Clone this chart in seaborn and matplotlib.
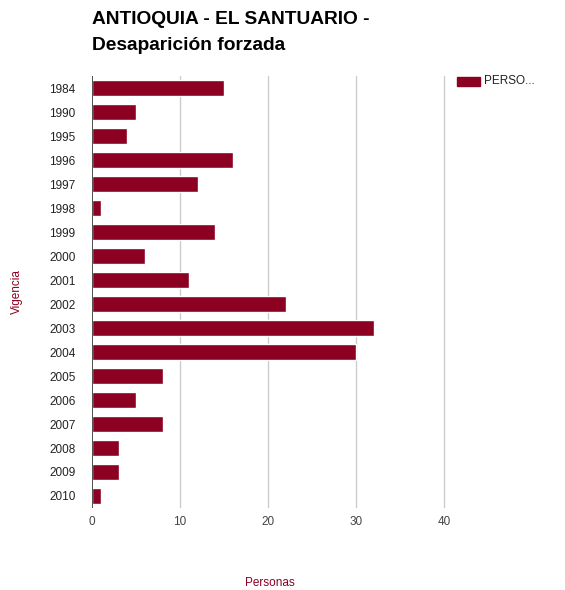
import matplotlib
matplotlib.use("Agg")
import matplotlib.pyplot as plt
import seaborn as sns
import pandas as pd
from matplotlib.patches import Rectangle

years = ["1984", "1990", "1995", "1996", "1997", "1998", "1999", "2000", "2001",
         "2002", "2003", "2004", "2005", "2006", "2007", "2008", "2009", "2010"]
personas = [15, 5, 4, 16, 12, 1, 14, 6, 11, 22, 32, 30, 8, 5, 8, 3, 3, 1]
x_ticks = [0, 10, 20, 30, 40]

df = pd.DataFrame({"Vigencia": years, "Personas": personas})

sns.set_theme(style="white")
plt.rcParams["font.family"] = ["Liberation Sans", "DejaVu Sans"]

color = "#8C0021"
fig = plt.figure(figsize=(5.65, 5.9), dpi=100)
ax = fig.add_axes([0.163, 0.139, 0.779, 0.732])

sns.barplot(data=df, y="Vigencia", x="Personas", orient="h", color=color,
            width=0.68, saturation=1, ax=ax, order=years)

ax.set_xlim(0, 50)
ax.set_xticks(x_ticks)
ax.set_xticklabels([str(t) for t in x_ticks], fontsize=8.5, color="#444444")
ax.tick_params(axis="y", labelsize=8.5, labelcolor="#222222", length=0, pad=12)
ax.tick_params(axis="x", length=0, pad=6)
for s in ax.spines.values():
    s.set_visible(False)
for t in x_ticks[1:]:
    ax.axvline(t, color="#CCCCCC", lw=1, zorder=0)
ax.axvline(0, color="#333333", lw=1.2, zorder=3)

ax.set_xlabel("Personas", color=color, fontsize=8.5, va="center")
ax.xaxis.set_label_coords(0.405, -0.174)
ax.set_ylabel("Vigencia", color=color, fontsize=8.5, va="center")
ax.yaxis.set_label_coords(-0.17, 0.5)

fig.text(92 / 565, 1 - 20 / 590, "ANTIOQUIA - EL SANTUARIO -", fontsize=13.8,
         fontweight="bold", va="center", ha="left", color="black")
fig.text(92 / 565, 1 - 46 / 590, "Desaparición forzada", fontsize=13.8,
         fontweight="bold", va="center", ha="left", color="black")

# legend
fig.patches.append(Rectangle((457 / 565, 1 - 86 / 590), 23 / 565, 9 / 590,
                             transform=fig.transFigure, color=color, figure=fig))
fig.text(484 / 565, 1 - 81 / 590, "PERSO...", fontsize=8.5, va="center",
         ha="left", color="#222222")

fig.savefig("out.png", dpi=100)
